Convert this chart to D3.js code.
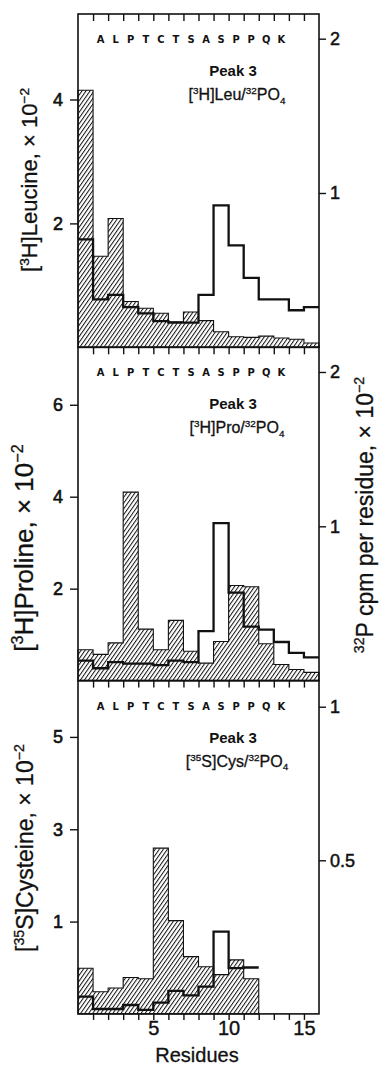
<!DOCTYPE html>
<html>
<head>
<meta charset="utf-8">
<script src="https://cdn.jsdelivr.net/npm/d3@7"></script>
<style>
  body { margin: 0; background: #fff; }
  svg { display: block; }
  text { font-family: "Liberation Sans", Arial, Helvetica, sans-serif; fill: #111; }
</style>
</head>
<body>
<div id="chart"></div>
<script>
// residue sequence printed across each panel
const sequence = ["A", "L", "P", "T", "C", "T", "S", "A", "S", "P", "P", "Q", "K"];

// hatched bars (labelled amino acid, left axis, x 10^-2) and 32P step line (right axis, x 10^-2)
const leuHatch = [4.15, 1.47, 2.08, 0.74, 0.63, 0.55, 0.41, 0.57, 0.43, 0.25, 0.17, 0.16, 0.18, 0.15, 0.13, 0.07];
const leuP32 = [0.70, 0.31, 0.34, 0.26, 0.22, 0.17, 0.16, 0.16, 0.34, 0.92, 0.66, 0.45, 0.31, 0.31, 0.24, 0.26];

const proHatch = [0.67, 0.57, 0.82, 4.10, 1.12, 0.67, 1.31, 0.64, 0.38, 0.85, 2.07, 2.04, 0.80, 0.35, 0.24, 0.18];
const proP32 = [0.13, 0.08, 0.12, 0.11, 0.11, 0.10, 0.13, 0.12, 0.32, 1.02, 0.57, 0.35, 0.33, 0.25, 0.18, 0.15];

const cysHatch = [0.99, 0.48, 0.56, 0.79, 0.76, 3.59, 2.02, 1.24, 1.02, 0.85, 1.17, 0.76];
const cysP32 = [0.056, 0.016, 0.016, 0.029, 0.013, 0.037, 0.075, 0.060, 0.089, 0.268, 0.149, 0.151];

// tick values / labels
const leuLeftTicks = [2, 4];
const leuLeftLabels = ["2", "4"];
const proLeftTicks = [2, 4, 6];
const proLeftLabels = ["2", "4", "6"];
const cysLeftTicks = [2, 4, 6];
const cysLeftLabels = ["1", "3", "5"];
const p32Ticks = [1, 2];
const p32Labels = ["1", "2"];
const cysP32Ticks = [0.5, 1];
const cysP32Labels = ["0.5", "1"];
const residueTicks = [5, 10, 15];

const width = 379, height = 1065;
const panelH = 333.3;
const top0 = 14;

const panels = [
  { hatch: leuHatch, p32: leuP32, leftMax: 5.38, rightMax: 2.16,
    leftTicks: leuLeftTicks, leftLabels: leuLeftLabels, rightTicks: p32Ticks, rightLabels: p32Labels,
    title: ["[", "^3", "H]Leu/", "^32", "PO", "_4"],
    ylabel: ["[", "^3", "H]Leucine, × 10", "^−2"], ylabelSize: 22, ylabelX: 37, ylabelY: 180 },
  { hatch: proHatch, p32: proP32, leftMax: 7.25, rightMax: 2.16,
    leftTicks: proLeftTicks, leftLabels: proLeftLabels, rightTicks: p32Ticks, rightLabels: p32Labels,
    title: ["[", "^3", "H]Pro/", "^32", "PO", "_4"],
    ylabel: ["[", "^3", "H]Proline, × 10", "^−2"], ylabelSize: 26, ylabelX: 33, ylabelY: 548 },
  { hatch: cysHatch, p32: cysP32, leftMax: 7.22, rightMax: 1.085,
    leftTicks: cysLeftTicks, leftLabels: cysLeftLabels, rightTicks: cysP32Ticks, rightLabels: cysP32Labels,
    title: ["[", "^35", "S]Cys/", "^32", "PO", "_4"],
    ylabel: ["[", "^35", "S]Cysteine, × 10", "^−2"], ylabelSize: 23, ylabelX: 33, ylabelY: 848 }
];

const svg = d3.select("#chart").append("svg")
  .attr("width", width)
  .attr("height", height);

// diagonal hatching
svg.append("defs").append("pattern")
  .attr("id", "hatch")
  .attr("patternUnits", "userSpaceOnUse")
  .attr("width", 3.3)
  .attr("height", 3.3)
  .attr("patternTransform", "rotate(35)")
  .append("line")
  .attr("x1", 0.5).attr("y1", 0)
  .attr("x2", 0.5).attr("y2", 3.3)
  .attr("stroke", "#111")
  .attr("stroke-width", 1);

const x = d3.scaleLinear().domain([0, 16]).range([78, 319]);

// text with ^super and _sub parts
function richText(sel, parts, size) {
  const t = sel.append("text").style("font-size", size + "px");
  let off = 0;
  parts.forEach(p => {
    let target = 0, s = p, fs = size;
    if (p[0] === "^") { target = -0.38 * size; s = p.slice(1); fs = size * 0.62; }
    if (p[0] === "_") { target = 0.22 * size; s = p.slice(1); fs = size * 0.62; }
    t.append("tspan").attr("dy", target - off).style("font-size", fs + "px").text(s);
    off = target;
  });
  return t;
}

panels.forEach((p, k) => {
  const top = top0 + k * panelH;
  const bottom = top + panelH;
  const g = svg.append("g");

  const yL = d3.scaleLinear().domain([0, p.leftMax]).range([bottom, top]);
  const yR = d3.scaleLinear().domain([0, p.rightMax]).range([bottom, top]);

  const steps = vals => vals.map((v, i) => [i, v]).concat([[vals.length, vals[vals.length - 1]]]);

  // hatched histogram
  g.append("path")
    .datum(steps(p.hatch))
    .attr("d", d3.area()
      .x(d => x(d[0]))
      .y0(yL(0))
      .y1(d => yL(d[1]))
      .curve(d3.curveStepAfter))
    .attr("fill", "url(#hatch)")
    .attr("stroke", "#111")
    .attr("stroke-width", 1.1);

  // 32P step line
  g.append("path")
    .datum(steps(p.p32))
    .attr("d", d3.line()
      .x(d => x(d[0]))
      .y(d => yR(d[1]))
      .curve(d3.curveStepAfter))
    .attr("fill", "none")
    .attr("stroke", "#111")
    .attr("stroke-width", 2.3);

  // frame
  g.append("rect")
    .attr("x", x(0)).attr("y", top)
    .attr("width", x(16) - x(0)).attr("height", panelH)
    .attr("fill", "none")
    .attr("stroke", "#111")
    .attr("stroke-width", 1.6);

  // inward ticks along top edge
  g.append("g")
    .attr("transform", `translate(0,${top})`)
    .call(d3.axisBottom(x).tickValues(d3.range(1, 16)).tickSize(7).tickFormat(""))
    .call(a => a.select(".domain").remove())
    .selectAll("line").attr("stroke", "#111").attr("stroke-width", 1.4);

  // left axis
  g.append("g")
    .attr("transform", `translate(${x(0)},0)`)
    .call(d3.axisLeft(yL).tickValues(p.leftTicks).tickSize(8).tickPadding(7)
      .tickFormat((d, i) => p.leftLabels[i]))
    .call(a => a.select(".domain").remove())
    .call(a => a.selectAll("line").attr("stroke", "#111").attr("stroke-width", 1.4))
    .call(a => a.selectAll("text").style("font-size", "18px").attr("fill", "#111")
      .attr("stroke", "#111").attr("stroke-width", 0.6).style("font-family", null));

  // right axis
  g.append("g")
    .attr("transform", `translate(${x(16)},0)`)
    .call(d3.axisRight(yR).tickValues(p.rightTicks).tickSize(7).tickPadding(4)
      .tickFormat((d, i) => p.rightLabels[i]))
    .call(a => a.select(".domain").remove())
    .call(a => a.selectAll("line").attr("stroke", "#111").attr("stroke-width", 1.4))
    .call(a => a.selectAll("text").style("font-size", "18px").attr("fill", "#111")
      .attr("stroke", "#111").attr("stroke-width", 0.5).style("font-family", null));

  // sequence letters
  g.selectAll(".seq")
    .data(sequence)
    .join("text")
    .attr("class", "seq")
    .attr("x", (d, i) => x(i + 1.5))
    .attr("y", top + 29)
    .attr("text-anchor", "middle")
    .style("font-family", "'Liberation Sans Narrow','DejaVu Sans Condensed',sans-serif")
    .style("font-weight", "bold")
    .style("font-size", "11px")
    .text(d => d);

  g.append("text")
    .attr("x", 233).attr("y", top + 62)
    .attr("text-anchor", "middle")
    .style("font-weight", "bold")
    .style("font-size", "15px")
    .text("Peak 3");

  richText(g, p.title, 16)
    .attr("x", 237).attr("y", top + 86)
    .attr("text-anchor", "middle")
    .attr("stroke", "#111").attr("stroke-width", 0.3);

  richText(g, p.ylabel, p.ylabelSize)
    .attr("text-anchor", "middle")
    .attr("stroke", "#111").attr("stroke-width", 0.3)
    .attr("transform", `translate(${p.ylabelX},${p.ylabelY}) rotate(-90)`);
});

// bottom residue axis
const bottomY = top0 + 3 * panelH;
svg.append("g")
  .attr("transform", `translate(0,${bottomY})`)
  .call(d3.axisBottom(x).tickValues(d3.range(1, 16)).tickSize(6).tickPadding(1)
    .tickFormat(d => residueTicks.includes(d) ? d : ""))
  .call(a => a.select(".domain").remove())
  .call(a => a.selectAll("line").attr("stroke", "#111").attr("stroke-width", 1.4))
  .call(a => a.selectAll("text").style("font-size", "20px").attr("fill", "#111")
    .attr("stroke", "#111").attr("stroke-width", 0.4).style("font-family", null));

svg.append("text")
  .attr("x", 197).attr("y", 1062)
  .attr("text-anchor", "middle")
  .style("font-size", "20px")
  .attr("stroke", "#111").attr("stroke-width", 0.3)
  .text("Residues");

// right axis title
richText(svg, ["^32", "P cpm per residue, × 10", "^−2"], 23)
  .attr("text-anchor", "middle")
  .attr("stroke", "#111").attr("stroke-width", 0.3)
  .attr("transform", "translate(373,515) rotate(-90)");
</script>
</body>
</html>
